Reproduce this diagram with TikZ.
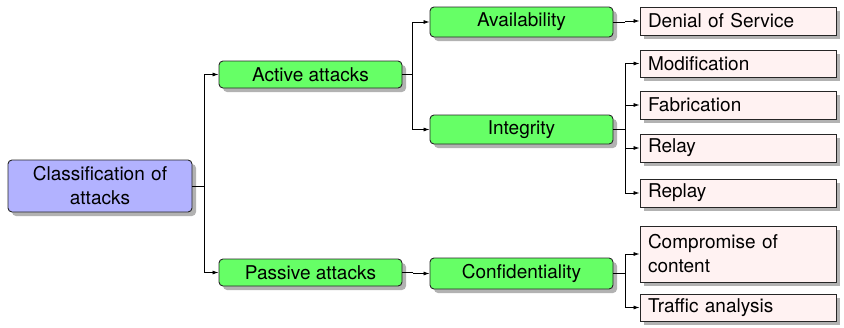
\documentclass[tikz,border=0pt]{standalone}
\usepackage{fontspec}
\setmainfont{TeX Gyre Heros}
\usetikzlibrary{shadows,arrows.meta,calc}
\begin{document}
\begin{tikzpicture}[x=1pt,y=-1pt,
  font=\fontsize{19}{24}\selectfont,
  shad/.style={drop shadow={shadow xshift=4pt,shadow yshift=-4pt,fill=black!30,opacity=1}},
  rootbox/.style={draw=black!85,line width=0.9pt,rounded corners=4pt,fill=blue!30,shad,
     minimum width=184pt,minimum height=52pt,text width=168pt,align=center,inner sep=0pt},
  catbox/.style={draw=black!85,line width=0.9pt,rounded corners=4pt,fill=green!60,shad,
     minimum width=183pt,minimum height=29pt,inner sep=0pt},
  leafbox/.style={draw=black!85,line width=0.9pt,fill=red!5,shad,
     minimum width=196pt,minimum height=28pt,text width=180pt,align=left,inner xsep=8pt,inner ysep=0pt},
  arr/.style={draw=black,line width=0.8pt,-{Latex[length=6pt,width=4pt]}},
  ]
\useasboundingbox (0,0) rectangle (844,327);
\node[rootbox] (root) at (100,186) {Classification of\\attacks};
\node[catbox,minimum height=27pt] (active) at (310.5,74.5) {Active attacks};
\node[catbox,minimum height=27pt] (passive) at (310.5,272.5) {Passive attacks};
\node[catbox,minimum height=30pt] (avail) at (521.5,22) {Availability};
\node[catbox] (integ) at (521.5,129.5) {Integrity};
\node[catbox,minimum height=31pt] (conf) at (521.5,273.5) {Confidentiality};
\node[leafbox] (dos) at (738,21) {Denial of Service};
\node[leafbox,minimum height=27pt] (mod) at (738,63.5) {Modification};
\node[leafbox] (fab) at (738,105) {Fabrication};
\node[leafbox] (relay) at (738,148) {Relay};
\node[leafbox] (replay) at (738,193) {Replay};
\node[leafbox,minimum height=56pt] (comp) at (738,254) {Compromise of\\content};
\node[leafbox,minimum height=27pt] (traf) at (738,307.5) {Traffic analysis};
\coordinate (j1) at ($(root.east)+(12,0)$);
\coordinate (j2) at ($(active.east)+(10,0)$);
\coordinate (j3) at ($(integ.east)+(12,0)$);
\coordinate (j4) at ($(conf.east)+(12,0)$);
\coordinate (j5) at ($(avail.east)+(12,0)$);
\coordinate (j6) at ($(passive.east)+(11,0)$);
\draw[line width=0.8pt] (root.east) -- (j1);
\draw[arr] (j1) |- (active.west);
\draw[arr] (j1) |- (passive.west);
\draw[line width=0.8pt] (active.east) -- (j2);
\draw[arr] (j2) |- (avail.west);
\draw[arr] (j2) |- (integ.west);
\draw[line width=0.8pt] (avail.east) -- (j5);
\draw[arr] (j5) |- (dos.west);
\draw[line width=0.8pt] (passive.east) -- (j6);
\draw[arr] (j6) |- (conf.west);
\draw[line width=0.8pt] (integ.east) -- (j3);
\draw[arr] (j3) |- (mod.west);
\draw[arr] (j3) |- (fab.west);
\draw[arr] (j3) |- (relay.west);
\draw[arr] (j3) |- (replay.west);
\draw[line width=0.8pt] (conf.east) -- (j4);
\draw[arr] (j4) |- (comp.west);
\draw[arr] (j4) |- (traf.west);
\end{tikzpicture}
\end{document}
